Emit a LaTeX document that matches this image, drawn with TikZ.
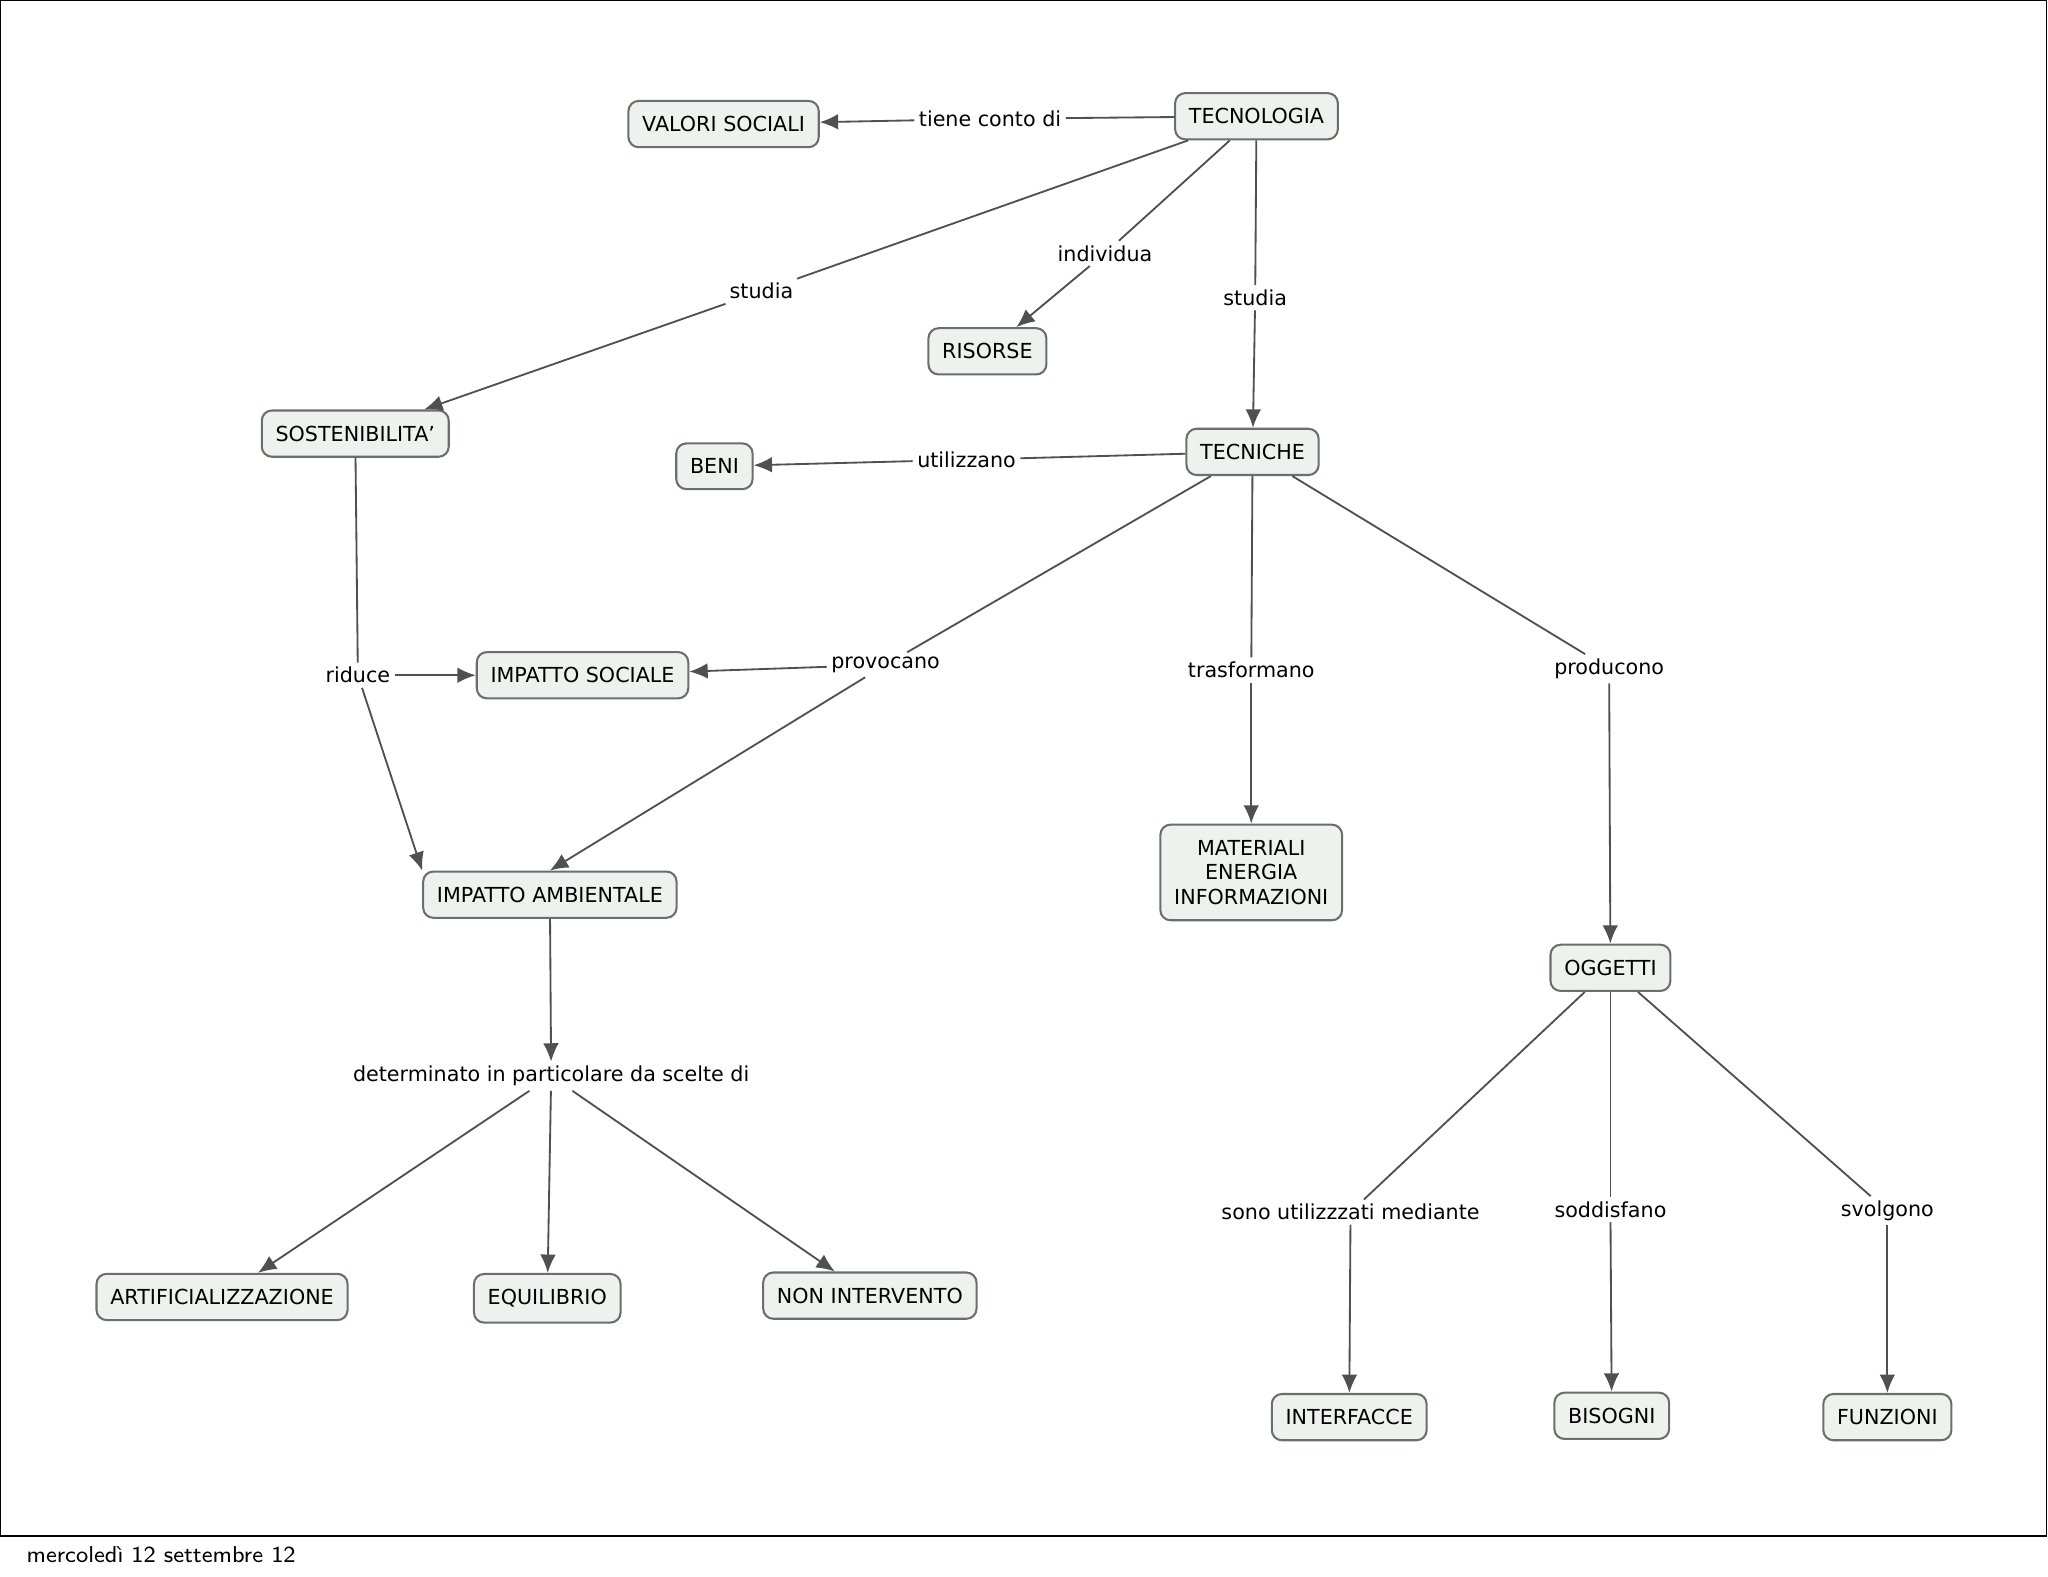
\documentclass[tikz,border=0pt]{standalone}
\usepackage{fontspec}
\setmainfont{DejaVu Sans}
\usetikzlibrary{arrows.meta}
\definecolor{boxfill}{HTML}{EEF2EF}
\definecolor{boxline}{HTML}{6A6F6C}
\definecolor{linkcol}{HTML}{505050}
\tikzset{
  concept/.style={draw=boxline, fill=boxfill, rounded corners=2.2pt, line width=0.45pt,
    inner xsep=3pt, minimum height=9.6pt, align=center, font=\fontsize{4.5}{5.4}\selectfont},
  link/.style={fill=white, inner sep=0.8pt, font=\fontsize{4.5}{5.4}\selectfont},
  line/.style={draw=linkcol, line width=0.4pt},
  arr/.style={line, -{Latex[length=4pt,width=3.4pt]}}
}
\begin{document}
\begin{tikzpicture}[x=0.01cm,y=-0.01cm]
\useasboundingbox (0,0) rectangle (1568,1207);
\draw[black, line width=0.3pt] (0,0) rectangle (1567,1176);
\node[anchor=west, font=\fontsize{5}{6}\selectfont\sffamily] (date) at (8,1190) {mercoledì 12 settembre 12};

% concepts
\node[concept] (tecnologia) at (962,89) {TECNOLOGIA};
\node[concept] (valori) at (554,95) {VALORI SOCIALI};
\node[concept] (risorse) at (756,269) {RISORSE};
\node[concept] (sosten) at (272,332) {SOSTENIBILITA'};
\node[concept] (beni) at (547,357) {BENI};
\node[concept] (tecniche) at (959,346) {TECNICHE};
\node[concept] (isociale) at (446,517) {IMPATTO SOCIALE};
\node[concept] (iamb) at (421,685) {IMPATTO AMBIENTALE};
\node[concept] (mat) at (958,668) {MATERIALI\\ENERGIA\\INFORMAZIONI};
\node[concept] (oggetti) at (1233,741) {OGGETTI};
\node[concept] (artif) at (170,993) {ARTIFICIALIZZAZIONE};
\node[concept] (equil) at (419,994) {EQUILIBRIO};
\node[concept] (nonint) at (666,992) {NON INTERVENTO};
\node[concept] (interf) at (1033,1085) {INTERFACCE};
\node[concept] (bisogni) at (1234,1084) {BISOGNI};
\node[concept] (funz) at (1445,1085) {FUNZIONI};

% linking phrases
\node[link] (tiene) at (758,91) {tiene conto di};
\node[link] (studiaA) at (583,223) {studia};
\node[link] (individua) at (846,194) {individua};
\node[link] (studiaB) at (961,228) {studia};
\node[link] (utilizzano) at (740,352) {utilizzano};
\node[link] (riduce) at (274,517) {riduce};
\node[link] (provocano) at (678,509) {provocano};
\node[link] (trasformano) at (958,513) {trasformano};
\node[link] (producono) at (1232,512) {producono};
\node[link] (determinato) at (422,824) {determinato in particolare da scelte di};
\node[link] (sono) at (1034,928) {sono utilizzzati mediante};
\node[link] (soddisfano) at (1233,926) {soddisfano};
\node[link] (svolgono) at (1445,927) {svolgono};

% connections
\draw[line] (tecnologia) -- (tiene);
\draw[arr] (tiene) -- (valori);
\draw[line] (tecnologia) -- (studiaA);
\draw[arr] (studiaA) -- (sosten);
\draw[line] (tecnologia) -- (individua);
\draw[arr] (individua) -- (risorse);
\draw[line] (tecnologia) -- (studiaB);
\draw[arr] (studiaB) -- (tecniche);
\draw[line] (tecniche) -- (utilizzano);
\draw[arr] (utilizzano) -- (beni);
\draw[line] (sosten) -- (riduce);
\draw[arr] (riduce) -- (isociale);
\draw[arr] (riduce) -- (iamb.north west);
\draw[line] (tecniche) -- (provocano);
\draw[arr] (provocano) -- (isociale);
\draw[arr] (provocano) -- (iamb.north);
\draw[line] (tecniche) -- (trasformano);
\draw[arr] (trasformano) -- (mat);
\draw[line] (tecniche) -- (producono);
\draw[arr] (producono) -- (oggetti);
\draw[arr] (iamb) -- (determinato);
\draw[arr] (determinato) -- (artif);
\draw[arr] (determinato) -- (equil);
\draw[arr] (determinato) -- (nonint);
\draw[line] (oggetti) -- (sono);
\draw[arr] (sono) -- (interf);
\draw[line] (oggetti) -- (soddisfano);
\draw[arr] (soddisfano) -- (bisogni);
\draw[line] (oggetti) -- (svolgono);
\draw[arr] (svolgono) -- (funz);
\end{tikzpicture}
\end{document}
